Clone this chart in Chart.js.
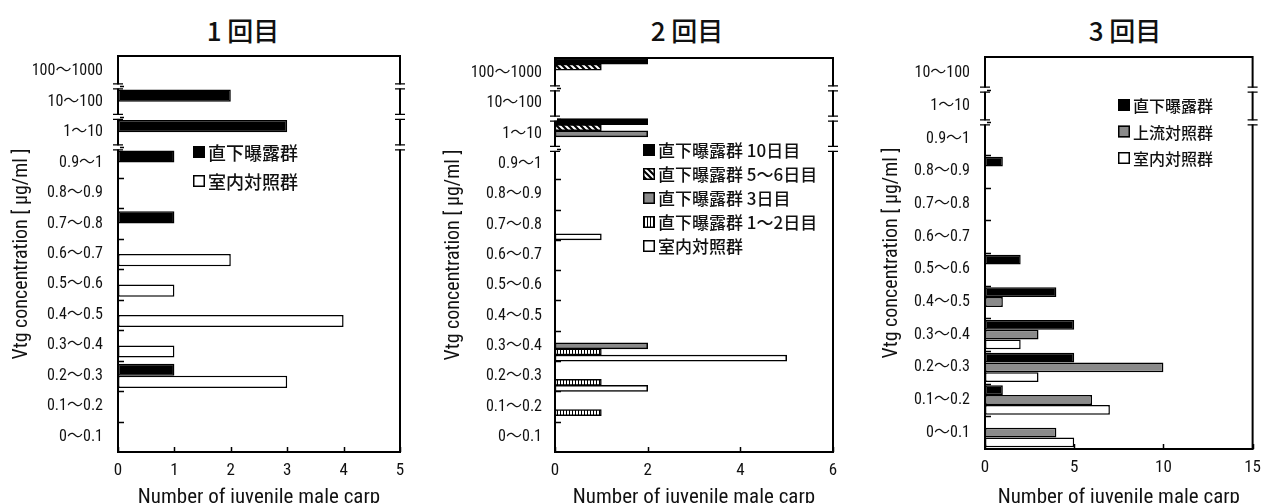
<!DOCTYPE html>
<html>
<head>
<meta charset="utf-8">
<script src="https://cdn.jsdelivr.net/npm/chart.js@4.4.1/dist/chart.umd.min.js"></script>
<style>
  body { margin: 0; width: 1270px; height: 503px; overflow: hidden; background: #fff; position: relative; }
  .panel { position: absolute; top: 0; height: 515px; }
  .ttl { position: absolute; top: 14px; width: 200px; text-align: center; font: 500 26px "Noto Sans CJK JP", sans-serif; line-height: 32px; color: #111; }
</style>
</head>
<body>
<div class="ttl" style="left:143px">1 回目</div>
<div class="ttl" style="left:587px">2 回目</div>
<div class="ttl" style="left:1025px">3 回目</div>
<div class="panel" style="left:0;width:425px"><canvas id="c1"></canvas></div>
<div class="panel" style="left:425px;width:430px"><canvas id="c2"></canvas></div>
<div class="panel" style="left:855px;width:415px"><canvas id="c3"></canvas></div>
<script>
// concentration classes, top to bottom
const classes = ['100〜1000', '10〜100', '1〜10', '0.9〜1', '0.8〜0.9', '0.7〜0.8', '0.6〜0.7',
                 '0.5〜0.6', '0.4〜0.5', '0.3〜0.4', '0.2〜0.3', '0.1〜0.2', '0〜0.1'];
const classes3 = ['10〜100', '1〜10', '0.9〜1', '0.8〜0.9', '0.7〜0.8', '0.6〜0.7',
                  '0.5〜0.6', '0.4〜0.5', '0.3〜0.4', '0.2〜0.3', '0.1〜0.2', '0〜0.1'];

// 1回目
const r1Names = ['直下曝露群', '室内対照群'];
const r1Exposed = [0, 2, 3, 1, 0, 1, 0, 0, 0, 0, 1, 0, 0];
const r1Indoor  = [0, 0, 0, 0, 0, 0, 2, 1, 4, 1, 3, 0, 0];

// 2回目
const r2Names = ['直下曝露群 10日目', '直下曝露群 5〜6日目', '直下曝露群 3日目', '直下曝露群 1〜2日目', '室内対照群'];
const r2Day10  = [2, 0, 2, 0, 0, 0, 0, 0, 0, 0, 0, 0, 0];
const r2Day5_6 = [1, 0, 1, 0, 0, 0, 0, 0, 0, 0, 0, 0, 0];
const r2Day3   = [0, 0, 2, 0, 0, 0, 0, 0, 0, 2, 0, 0, 0];
const r2Day1_2 = [0, 0, 0, 0, 0, 0, 0, 0, 0, 1, 1, 1, 0];
const r2Indoor = [0, 0, 0, 0, 0, 1, 0, 0, 0, 5, 2, 0, 0];

// 3回目
const r3Names = ['直下曝露群', '上流対照群', '室内対照群'];
const r3Exposed  = [0, 0, 0, 1, 0, 0, 2, 4, 5, 5, 1, 0];
const r3Upstream = [0, 0, 0, 0, 0, 0, 0, 1, 3, 10, 6, 4];
const r3Indoor   = [0, 0, 0, 0, 0, 0, 0, 0, 2, 3, 7, 5];

const xMax = [5, 6, 15];
const xStep = [1, 2, 5];

const narrow = "'Roboto Condensed', 'Noto Sans CJK JP', sans-serif";
const GRAY = '#8a8a8a';

function hatchPattern(kind) {
    const c = document.createElement('canvas');
    const s = kind === 'diag' ? 6 : 3;
    c.width = s; c.height = s;
    const g = c.getContext('2d');
    g.fillStyle = '#fff';
    g.fillRect(0, 0, s, s);
    g.strokeStyle = '#000';
    if (kind === 'diag') {
        g.lineWidth = 2.2;
        g.beginPath();
        g.moveTo(-1, -1); g.lineTo(s + 1, s + 1);
        g.moveTo(s - 1, -1); g.lineTo(s + 1, 1);
        g.moveTo(-1, s - 1); g.lineTo(1, s + 1);
        g.stroke();
    } else {
        g.fillStyle = '#000';
        g.fillRect(0, 0, 1, s);
    }
    return g.createPattern(c, 'repeat');
}

// box, inward ticks, axis breaks, legend
const decorations = {
    id: 'decorations',
    beforeDatasetsDraw(chart, args, opts) {
        const ctx = chart.ctx, a = chart.chartArea;
        const ys = chart.scales.y, xs = chart.scales.x;
        ctx.save();
        ctx.strokeStyle = '#000';
        ctx.lineWidth = 2;
        ctx.strokeRect(a.left, a.top, a.right - a.left, a.bottom - a.top);
        ctx.lineWidth = 1.5;
        ctx.beginPath();
        for (let i = 0; i < ys.ticks.length - 1; i++) {
            const y = Math.round((ys.getPixelForValue(i) + ys.getPixelForValue(i + 1)) / 2) + 0.5;
            ctx.moveTo(a.left, y); ctx.lineTo(a.left + 6, y);
        }
        xs.ticks.forEach(t => {
            const x = Math.round(xs.getPixelForValue(t.value)) + 0.5;
            ctx.moveTo(x, a.bottom); ctx.lineTo(x, a.bottom - 5);
        });
        ctx.stroke();
        ctx.restore();
    },
    afterDatasetsDraw(chart, args, opts) {
        const ctx = chart.ctx, a = chart.chartArea, ys = chart.scales.y;
        ctx.save();
        (opts.breaks || []).forEach(i => {
            const y = (ys.getPixelForValue(i) + ys.getPixelForValue(i + 1)) / 2;
            [a.left, a.right].forEach(x => {
                ctx.fillStyle = '#fff';
                ctx.fillRect(x - 2, y - 2, 4, 4);
                ctx.strokeStyle = '#000';
                ctx.lineWidth = 1.2;
                ctx.beginPath();
                ctx.moveTo(x - 5, y - 2.5); ctx.lineTo(x + 5, y - 2.5);
                ctx.moveTo(x - 5, y + 2.5); ctx.lineTo(x + 5, y + 2.5);
                ctx.stroke();
            });
        });
        // legend
        const lg = opts.legend;
        if (lg) {
            ctx.font = "500 " + lg.size + "px 'Noto Sans CJK JP', sans-serif";
            ctx.textBaseline = 'middle';
            chart.data.datasets.forEach((ds, k) => {
                const x = a.left + lg.x, y = a.top + lg.y + k * lg.gap;
                ctx.fillStyle = ds.backgroundColor;
                ctx.fillRect(x, y - 6, 12, 12);
                ctx.strokeStyle = '#000';
                ctx.lineWidth = 1.5;
                ctx.strokeRect(x + 0.75, y - 5.25, 10.5, 10.5);
                ctx.fillStyle = '#111';
                ctx.fillText(ds.label, x + 15, y + 1);
            });
        }
        ctx.restore();
    }
};

function makeChart(id, labels, names, series, colors, p) {
    const datasets = series.map((d, k) => ({
        label: names[k],
        data: d,
        backgroundColor: colors[k],
        borderColor: '#000',
        borderWidth: 1.5,
        borderSkipped: false,
        categoryPercentage: p.catPct,
        barPercentage: 1.0
    }));
    return new Chart(document.getElementById(id), {
        type: 'bar',
        data: { labels: labels, datasets: datasets },
        plugins: [decorations],
        options: {
            indexAxis: 'y',
            responsive: true,
            maintainAspectRatio: false,
            animation: false,
            events: [],
            layout: { padding: { left: 4, right: p.right, top: p.top, bottom: 0 } },
            plugins: {
                legend: { display: false },
                tooltip: { enabled: false },
                decorations: { breaks: p.breaks, legend: p.legend }
            },
            scales: {
                x: {
                    min: 0, max: p.xMax,
                    grid: { display: false, drawTicks: false },
                    border: { display: false },
                    ticks: { stepSize: p.xStep, color: '#111', padding: 9, font: { family: narrow, size: 17 } },
                    title: { display: true, text: 'Number of juvenile male carp', color: '#111',
                             padding: { top: 0, bottom: 5 }, font: { family: narrow, size: 21 } },
                    afterFit: s => { s.height = p.xHeight; }
                },
                y: {
                    grid: { display: false, drawTicks: false },
                    border: { display: false },
                    ticks: { color: '#111', padding: p.tickPad, font: { family: narrow, size: 16 }, autoSkip: false },
                    title: { display: true, text: 'Vtg concentration [ μg/ml ]', color: '#111',
                             padding: { top: p.titlePad, bottom: 0 }, font: { family: narrow, size: 20 } },
                    afterFit: s => { s.width = p.yWidth; }
                }
            }
        }
    });
}

makeChart('c1', classes, r1Names, [r1Exposed, r1Indoor], ['#000', '#fff'], {
    catPct: 0.8, right: 25, top: 56, xHeight: 63, yWidth: 114, tickPad: 15, titlePad: 6,
    xMax: xMax[0], xStep: xStep[0], breaks: [0, 1, 2],
    legend: { x: 75, y: 96, gap: 29, size: 18 }
});

makeChart('c2', classes, r2Names, [r2Day10, r2Day5_6, r2Day3, r2Day1_2, r2Indoor],
    ['#000', hatchPattern('diag'), GRAY, hatchPattern('vert'), '#fff'], {
    catPct: 1.0, right: 22, top: 58, xHeight: 63, yWidth: 126, tickPad: 13, titlePad: 13,
    xMax: xMax[1], xStep: xStep[1], breaks: [0, 1, 2],
    legend: { x: 88, y: 92, gap: 24, size: 17 }
});

makeChart('c3', classes3, r3Names, [r3Exposed, r3Upstream, r3Indoor], ['#000', GRAY, '#fff'], {
    catPct: 0.9, right: 8, top: 57, xHeight: 66, yWidth: 126, tickPad: 15, titlePad: 21,
    xMax: xMax[2], xStep: xStep[2], breaks: [0, 1],
    legend: { x: 133, y: 48, gap: 26.5, size: 16 }
});
</script>
</body>
</html>
